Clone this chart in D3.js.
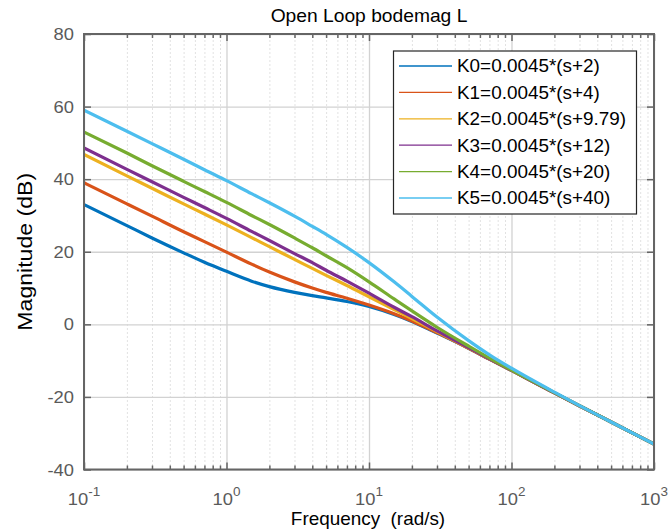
<!DOCTYPE html>
<html><head><meta charset="utf-8">
<script src="https://cdn.jsdelivr.net/npm/d3@7"></script>
<style>
body{margin:0;background:#fff}
text{font-family:"Liberation Sans",Arial,Helvetica,sans-serif;white-space:pre}
</style>
</head><body>
<svg id="c" width="670" height="531"></svg>
<script>
// ---- data ----
const freq = [0.1,0.2,0.3,0.5,0.7,1,1.5,2,3,4,5,7,10,15,20,30,50,70,100,200,300,500,1000];
const mag0 = [33.0,27.2,23.8,19.7,17.1,14.6,11.9,10.4,8.8,7.9,7.3,6.3,4.9,2.7,0.8,-2.4,-6.6,-9.6,-12.7,-18.9,-22.5,-26.9,-33.0];
const mag1 = [39.0,33.2,29.8,25.5,22.8,19.9,16.6,14.4,11.7,10.0,8.8,7.2,5.3,2.9,0.9,-2.3,-6.6,-9.6,-12.7,-18.9,-22.5,-26.9,-33.0];
const mag2 = [46.8,40.9,37.5,33.2,30.4,27.4,23.9,21.4,17.9,15.4,13.5,10.7,7.6,4.1,1.6,-2.0,-6.5,-9.5,-12.7,-18.9,-22.4,-26.9,-33.0];
const mag3 = [48.6,42.7,39.3,35.0,32.2,29.2,25.6,23.1,19.5,17.0,14.9,11.9,8.6,4.7,2.1,-1.8,-6.4,-9.5,-12.7,-18.9,-22.4,-26.9,-33.0];
const mag4 = [53.0,47.2,43.7,39.4,36.6,33.6,30.0,27.5,23.8,21.1,18.9,15.6,11.7,7.0,3.7,-0.8,-6.0,-9.3,-12.6,-18.8,-22.4,-26.9,-33.0];
const mag5 = [59.0,53.2,49.8,45.5,42.6,39.6,36.0,33.5,29.8,27.0,24.8,21.2,17.0,11.7,7.7,2.0,-4.5,-8.4,-12.1,-18.7,-22.4,-26.9,-33.0];
const seriesLabels = ["K0=0.0045*(s+2)","K1=0.0045*(s+4)","K2=0.0045*(s+9.79)","K3=0.0045*(s+12)","K4=0.0045*(s+20)","K5=0.0045*(s+40)"];
const xTickValues = [0.1,1,10,100,1000];
const xTickExponents = ["-1","0","1","2","3"];
const yTickValues = [-40,-20,0,20,40,60,80];
const titleText = "Open Loop bodemag L";
const xLabelText = "Frequency  (rad/s)";
const yLabelText = "Magnitude (dB)";

// ---- styling ----
const colors = ["#0072BD","#D95319","#EDB120","#7E2F8E","#77AC30","#4DBEEE"];
const allMags = [mag0,mag1,mag2,mag3,mag4,mag5];
const W = 670, H = 531;
const m = {l:84, r:16, t:34, b:61.5};
const axisGray = "#656565";
const tickGray = "#5a5a5a";

const svg = d3.select("#c");
const x = d3.scaleLog().domain([0.1,1000]).range([m.l, W-m.r]);
const y = d3.scaleLinear().domain([-40,80]).range([H-m.b, m.t]);
const ph = (H-m.b) - m.t, pw = (W-m.r) - m.l;

const minorTicks = [];
[0.1,1,10,100].forEach(d => { for (let k=2;k<=9;k++) minorTicks.push(+(d*k).toPrecision(3)); });

function sText(g, tx, ty, rot, sx, str, size, anchor, color){
  const grp = g.append("g").attr("transform", `translate(${tx},${ty}) rotate(${rot}) scale(${sx},1)`);
  return grp.append("text").attr("x",0).attr("y",0).attr("text-anchor",anchor)
    .attr("xml:space","preserve")
    .attr("font-size",size).attr("fill",color).text(str);
}

svg.append("rect").attr("x",m.l).attr("y",m.t).attr("width",pw).attr("height",ph).attr("fill","#fff");

// minor grid (x only)
svg.append("g").attr("transform",`translate(0,${H-m.b})`)
  .call(d3.axisBottom(x).tickValues(minorTicks).tickSize(-ph).tickFormat(""))
  .call(g => { g.select(".domain").remove(); g.selectAll("line").attr("stroke","#c4c4c4").attr("stroke-dasharray","1,3"); });

// major grid
svg.append("g").attr("transform",`translate(0,${H-m.b})`)
  .call(d3.axisBottom(x).tickValues(xTickValues).tickSize(-ph).tickFormat(""))
  .call(g => { g.select(".domain").remove(); g.selectAll("line").attr("stroke","#d2d2d2").attr("stroke-width",1.3); });
svg.append("g").attr("transform",`translate(${m.l},0)`)
  .call(d3.axisLeft(y).tickValues(yTickValues).tickSize(-pw).tickFormat(""))
  .call(g => { g.select(".domain").remove(); g.selectAll("line").attr("stroke","#d2d2d2").attr("stroke-width",1.3); });

// curves
svg.append("clipPath").attr("id","clip").append("rect").attr("x",m.l).attr("y",m.t).attr("width",pw).attr("height",ph);
const line = d3.line().x(d=>x(d[0])).y(d=>y(d[1])).curve(d3.curveMonotoneX);
const curves = svg.append("g").attr("clip-path","url(#clip)");
allMags.forEach((mags,i) => {
  curves.append("path").datum(freq.map((f,j)=>[f,mags[j]]))
    .attr("d",line).attr("fill","none").attr("stroke",colors[i])
    .attr("stroke-width",3.2).attr("stroke-linejoin","round").attr("stroke-linecap","round");
});

// axes with inward ticks
function styleAxis(g){ g.select(".domain").remove(); g.selectAll("line").attr("stroke",axisGray).attr("stroke-width",1.5); }
svg.append("g").attr("transform",`translate(0,${H-m.b})`)
  .call(d3.axisBottom(x).tickValues(xTickValues).tickSizeInner(-7).tickSizeOuter(0).tickFormat(""))
  .call(styleAxis);
svg.append("g").attr("transform",`translate(0,${H-m.b})`)
  .call(d3.axisBottom(x).tickValues(minorTicks).tickSizeInner(-4).tickSizeOuter(0).tickFormat(""))
  .call(styleAxis);
svg.append("g").attr("transform",`translate(0,${m.t})`)
  .call(d3.axisTop(x).tickValues(xTickValues).tickSizeInner(-7).tickSizeOuter(0).tickFormat(""))
  .call(styleAxis);
svg.append("g").attr("transform",`translate(0,${m.t})`)
  .call(d3.axisTop(x).tickValues(minorTicks).tickSizeInner(-4).tickSizeOuter(0).tickFormat(""))
  .call(styleAxis);
svg.append("g").attr("transform",`translate(${m.l},0)`)
  .call(d3.axisLeft(y).tickValues(yTickValues).tickSizeInner(-7).tickSizeOuter(0).tickFormat(""))
  .call(styleAxis);
svg.append("g").attr("transform",`translate(${W-m.r},0)`)
  .call(d3.axisRight(y).tickValues(yTickValues).tickSizeInner(-7).tickSizeOuter(0).tickFormat(""))
  .call(styleAxis);

// box
svg.append("rect").attr("x",m.l).attr("y",m.t).attr("width",pw).attr("height",ph)
  .attr("fill","none").attr("stroke",axisGray).attr("stroke-width",2);

// tick labels
const lab = svg.append("g");
yTickValues.forEach(v => {
  sText(lab, m.l-10, y(v)+6, 0, 1.08, String(v), 17, "end", tickGray);
});
xTickValues.forEach((v,i) => {
  const grp = lab.append("g").attr("transform",`translate(${x(v)},${H-m.b+35}) scale(1.08,1)`);
  const t = grp.append("text").attr("text-anchor","middle").attr("font-size",17).attr("fill",tickGray);
  t.append("tspan").text("10");
  t.append("tspan").attr("font-size",12.5).attr("dy",-8.5).text(xTickExponents[i]);
});

// titles
sText(svg, (m.l+W-m.r)/2, 22, 0, 1.1, titleText, 17.5, "middle", "#000");
sText(svg, (m.l+W-m.r)/2 - 1, 525, 0, 1.08, xLabelText, 17.5, "middle", "#000");
sText(svg, 32, (m.t+H-m.b)/2, -90, 1.1, yLabelText, 21, "middle", "#000");

// legend
const lg = svg.append("g");
lg.append("rect").attr("x",393.5).attr("y",51).attr("width",243).attr("height",163)
  .attr("fill","#fff").attr("stroke","#262626").attr("stroke-width",1.2);
seriesLabels.forEach((s,i) => {
  const yy = 66 + i*26.4;
  lg.append("line").attr("x1",399).attr("x2",452).attr("y1",yy).attr("y2",yy)
    .attr("stroke",colors[i]).attr("stroke-width",1.3);
  sText(lg, 457, yy+6.3, 0, 1.08, s, 17.5, "start", "#000");
});
</script>
</body></html>
